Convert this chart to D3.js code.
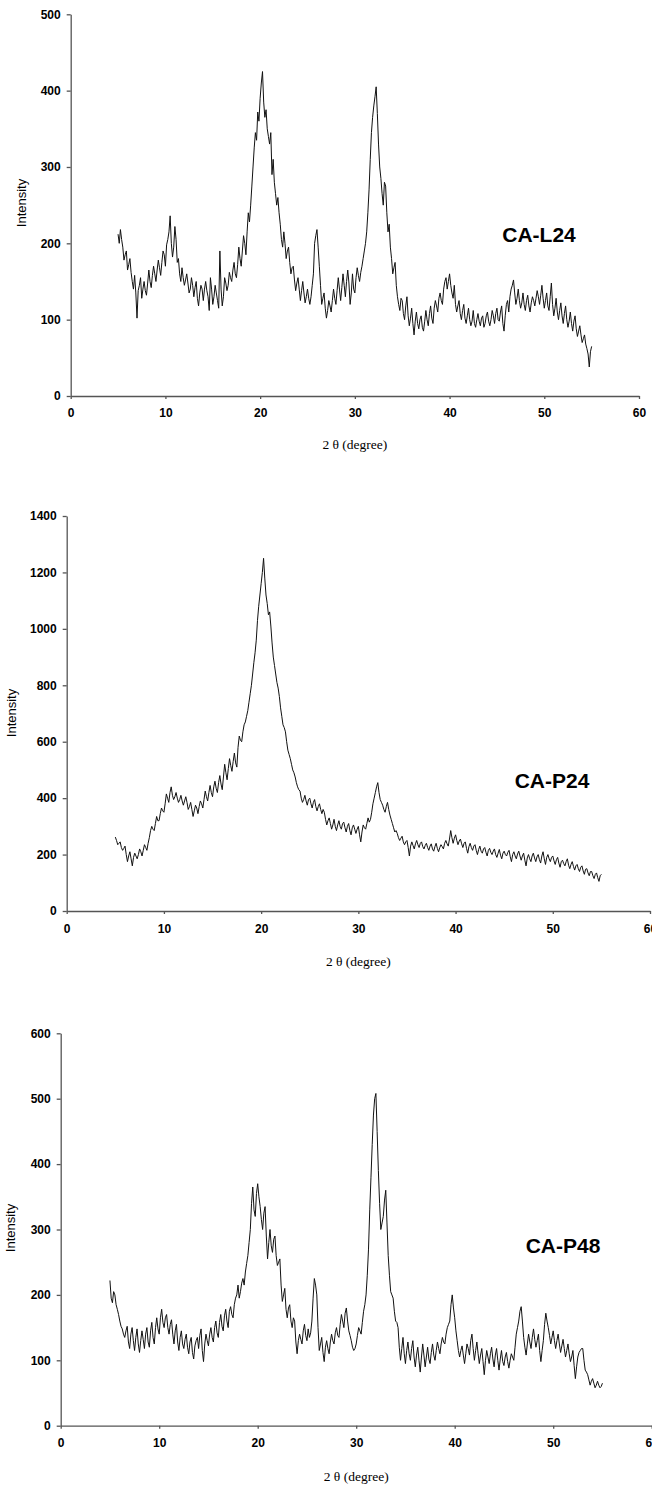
<!DOCTYPE html>
<html>
<head>
<meta charset="utf-8">
<script src="https://cdn.jsdelivr.net/npm/d3@7"></script>
<style>
  body { margin: 0; background: #fff; }
  svg { display: block; }
  .tick text { font-family: "Liberation Sans", Arial, sans-serif; font-weight: bold; font-size: 12px; fill: #000; }
  .domain, .tick line { stroke: #555; stroke-width: 1.3; }
</style>
</head>
<body>
<svg id="chart" width="652" height="1493"></svg>
<script>
// 2theta scan grid (degrees), 5 to 55 in 0.125 steps
var twoTheta = d3.range(5, 55.001, 0.125);

// Intensity, one value per grid step
var intensityL24 = [
  212,200,218,205,195,178,185,190,165,172,180,162,150,140,158,135,102,138,145,155,
  128,140,150,138,132,148,165,150,142,158,170,160,150,165,178,168,158,175,190,185,
  170,198,205,215,236,200,182,195,222,205,175,180,160,150,168,155,145,152,160,148,
  135,140,155,145,130,142,150,128,118,135,145,140,125,140,150,138,130,112,155,140,
  120,130,145,135,125,115,190,140,118,130,155,148,138,145,162,155,150,165,175,160,
  155,172,195,180,170,190,210,200,185,215,240,228,250,275,300,325,345,335,372,360,
  390,410,425,385,365,375,350,340,330,345,290,310,280,265,250,260,240,225,205,195,
  215,200,180,190,195,175,160,168,170,152,138,148,155,140,125,138,150,135,122,130,
  140,128,120,130,145,160,200,210,218,195,170,145,120,128,135,115,102,112,125,118,
  110,125,140,128,120,138,155,140,125,142,160,145,130,150,165,148,120,135,160,140,
  135,155,168,158,150,162,170,180,190,200,215,240,270,310,345,365,380,392,405,370,
  330,300,285,265,250,280,275,240,215,225,195,180,160,168,175,145,130,120,112,128,
  125,108,100,118,130,105,92,102,115,95,80,98,110,95,88,100,105,90,85,98,
  112,100,92,108,118,102,95,115,125,118,110,128,135,125,120,140,150,155,140,150,
  160,145,135,128,145,120,110,118,125,108,100,112,120,102,95,105,115,100,92,98,
  112,95,90,100,108,98,92,102,105,90,95,105,110,98,92,100,112,105,95,108,
  115,100,98,110,118,95,85,105,120,125,110,130,140,145,152,135,120,128,140,125,
  115,122,135,120,112,125,132,118,110,122,130,125,118,128,138,130,120,132,145,128,
  115,125,135,118,112,130,148,120,105,115,128,110,100,112,122,105,95,108,118,100,
  90,98,110,95,85,98,105,88,78,85,92,80,70,75,80,68,62,55,38,58,
  65
];

var intensityP24 = [
  262,250,235,240,245,225,215,222,230,200,175,195,210,185,160,190,205,195,185,200,
  220,210,195,215,235,225,215,240,260,285,300,290,285,310,335,320,320,345,365,355,
  350,380,415,400,385,420,440,410,395,405,420,400,385,395,410,390,375,390,405,385,
  360,370,385,360,335,355,375,365,345,370,390,380,365,395,425,405,390,420,445,420,
  405,440,460,435,420,455,480,450,430,475,520,490,465,505,540,515,495,530,560,525,
  510,580,620,605,600,635,660,670,690,710,740,770,800,840,880,915,960,1030,1080,1120,
  1160,1200,1250,1180,1120,1090,1050,1060,1010,950,900,870,840,810,790,760,720,690,660,650,
  635,600,570,555,540,520,500,490,475,455,440,430,425,400,385,395,410,390,375,395,
  400,380,365,385,395,370,355,370,380,360,345,360,350,325,305,320,330,310,290,305,
  325,300,285,305,320,300,290,310,315,295,280,300,310,285,270,295,305,290,275,290,
  300,270,245,280,305,295,290,310,330,315,325,350,380,400,420,440,455,420,395,385,
  375,360,350,370,385,360,340,325,310,295,280,285,275,260,250,258,265,245,235,245,
  250,225,195,230,245,232,220,238,250,235,225,240,245,228,220,232,240,225,215,230,
  238,220,212,228,240,222,210,225,235,228,220,240,250,238,230,255,285,260,240,258,
  270,250,235,248,255,238,225,240,245,222,205,228,240,225,215,230,235,215,200,218,
  230,212,205,220,225,208,195,215,222,208,200,212,220,200,190,205,218,198,185,205,
  212,200,195,208,215,192,175,200,210,195,185,202,212,195,180,195,205,180,160,188,
  200,185,175,195,205,188,175,192,200,182,170,195,210,185,165,190,200,185,175,190,
  195,178,165,182,190,170,155,175,180,168,160,175,185,162,150,165,175,158,145,160,
  165,150,140,155,160,142,130,148,150,135,125,140,140,125,115,130,135,118,105,125,
  130
];

var intensityP48 = [
  222,195,188,205,200,185,178,170,160,152,148,140,135,145,152,128,118,140,150,130,
  115,135,148,125,112,130,145,132,118,140,150,128,120,145,158,135,125,150,165,148,
  140,165,178,158,150,165,170,150,140,155,162,140,125,145,155,128,115,135,145,125,
  118,132,140,120,110,128,135,112,102,122,130,135,118,138,148,115,98,125,140,130,
  122,140,150,135,128,150,160,142,135,158,170,152,145,168,178,160,150,175,182,170,
  165,185,195,200,215,195,205,218,225,215,235,248,260,280,300,340,365,330,320,355,
  370,350,335,315,300,325,335,290,255,280,300,275,265,285,290,260,245,250,255,215,
  190,200,210,178,165,180,185,160,150,165,160,128,110,130,140,132,125,145,155,138,
  130,148,135,142,160,195,225,215,200,150,115,125,135,112,98,120,130,118,110,128,
  140,130,125,142,150,138,135,155,170,160,150,172,180,160,145,138,130,120,115,118,
  125,138,150,145,140,158,175,185,200,230,270,330,380,430,475,500,508,450,390,340,
  300,310,320,345,360,310,260,230,205,200,195,175,160,158,150,120,100,118,135,110,
  95,115,128,110,100,118,130,105,90,108,120,100,82,105,125,108,90,105,120,102,
  95,112,125,108,100,115,128,118,110,125,135,128,125,140,150,155,160,185,200,180,
  165,145,130,115,105,115,122,108,95,110,125,118,108,130,140,118,100,115,128,110,
  95,108,118,98,78,100,115,105,95,110,120,102,90,108,118,100,85,102,115,98,
  92,105,112,98,88,100,110,105,100,120,140,150,160,175,182,160,135,120,108,125,
  140,128,118,135,148,132,120,130,140,115,98,115,130,155,172,160,150,138,125,135,
  145,130,118,130,140,125,112,122,132,118,105,115,125,110,98,105,115,92,72,90,
  105,112,115,118,118,100,85,82,78,70,62,68,72,65,58,62,68,62,58,60,
  65
];

// Axis ticks and sample names
var xTicks = [0, 10, 20, 30, 40, 50, 60];
var yTicksL24 = [0, 100, 200, 300, 400, 500];
var yTicksP24 = [0, 200, 400, 600, 800, 1000, 1200, 1400];
var yTicksP48 = [0, 100, 200, 300, 400, 500, 600];
var sampleNames = ["CA-L24", "CA-P24", "CA-P48"];

var svg = d3.select("#chart");

// Panel geometry measured from the page
var panels = [
  { values: intensityL24, yTicks: yTicksL24, yMax: 500, name: sampleNames[0],
    left: 70.7, right: 639, top: 14.3, bottom: 396,
    xPad: 9.5, yLabelX: 21.7, yLabelY: 203, xTitleY: 444, nameX: 539, nameY: 242 },
  { values: intensityP24, yTicks: yTicksP24, yMax: 1400, name: sampleNames[1],
    left: 66.7, right: 650, top: 516, bottom: 911,
    xPad: 10.5, yLabelX: 11, yLabelY: 713, xTitleY: 961, nameX: 552, nameY: 788 },
  { values: intensityP48, yTicks: yTicksP48, yMax: 600, name: sampleNames[2],
    left: 60.7, right: 651.7, top: 1033.3, bottom: 1425.7,
    xPad: 10, yLabelX: 10, yLabelY: 1228, xTitleY: 1476, nameX: 563, nameY: 1253 }
];

function drawPanel(p) {
  var x = d3.scaleLinear().domain([0, 60]).range([p.left, p.right]);
  var y = d3.scaleLinear().domain([0, p.yMax]).range([p.bottom, p.top]);

  var g = svg.append("g");

  // x axis
  g.append("g")
    .attr("transform", "translate(0," + p.bottom + ")")
    .call(d3.axisBottom(x).tickValues(xTicks).tickFormat(d3.format("d"))
      .tickSize(3).tickSizeOuter(0).tickPadding(p.xPad));

  // y axis
  g.append("g")
    .attr("transform", "translate(" + p.left + ",0)")
    .call(d3.axisLeft(y).tickValues(p.yTicks).tickFormat(d3.format("d"))
      .tickSize(4).tickSizeOuter(0).tickPadding(6));

  // pattern
  var line = d3.line()
    .x(function(d, i) { return x(twoTheta[i]); })
    .y(function(d) { return y(d); });

  g.append("path")
    .datum(p.values)
    .attr("fill", "none")
    .attr("stroke", "#111")
    .attr("stroke-width", 1)
    .attr("stroke-linejoin", "round")
    .attr("d", line);

  // y axis label
  g.append("text")
    .attr("transform", "translate(" + p.yLabelX + "," + p.yLabelY + ") rotate(-90)")
    .attr("dy", "0.35em")
    .style("text-anchor", "middle")
    .style("font-family", "'Liberation Sans', Arial, sans-serif")
    .style("font-size", "13px")
    .text("Intensity");

  // x axis label
  g.append("text")
    .attr("x", (p.left + p.right) / 2)
    .attr("y", p.xTitleY)
    .attr("dy", "0.35em")
    .style("text-anchor", "middle")
    .style("font-family", "'Liberation Serif', 'Times New Roman', serif")
    .style("font-size", "13.5px")
    .text("2 θ (degree)");

  // sample name
  g.append("text")
    .attr("x", p.nameX)
    .attr("y", p.nameY)
    .style("text-anchor", "middle")
    .style("font-family", "'Liberation Sans', Arial, sans-serif")
    .style("font-weight", "bold")
    .style("font-size", "21px")
    .text(p.name);
}

panels.forEach(drawPanel);
</script>
</body>
</html>
